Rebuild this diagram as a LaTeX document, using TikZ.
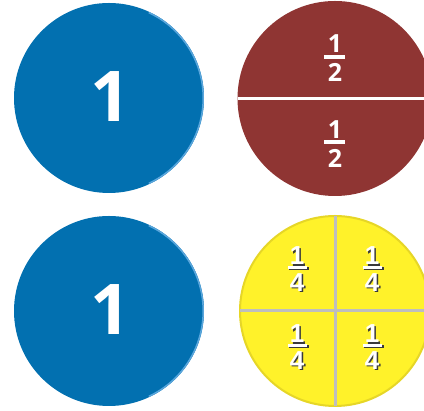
\documentclass[tikz,border=0pt]{standalone}
\usepackage{fontspec}
\setmainfont{Open Sans}
\newfontfamily\quarterfont{Liberation Sans}
\definecolor{discblue}{HTML}{0270B0}
\definecolor{rimblue}{HTML}{5AA6DC}
\definecolor{halfred}{HTML}{8F3533}
\definecolor{quarteryellow}{HTML}{FFF22A}
\definecolor{quarterrim}{HTML}{E6D627}
\definecolor{cutgray}{HTML}{BEBEBE}
\definecolor{shadowgray}{HTML}{3A3A3A}
\begin{document}
\begin{tikzpicture}[x=1pt,y=1pt,
  bignum/.style={text=white,inner sep=0pt,font=\bfseries\fontsize{70}{70}\selectfont},
  halfnum/.style={text=white,inner sep=0pt,font=\bfseries\fontsize{25}{25}\selectfont},
  quarternum/.style={inner sep=0pt,font=\quarterfont\bfseries\fontsize{26}{26}\selectfont}]
  \useasboundingbox (0,0) rectangle (424,411);
  \clip (0,0) rectangle (424,411);
  % two wholes
  \foreach \cy/\wn in {313/wholeA,100/wholeB} {
    \fill[discblue] (109,\cy) circle (95);
    \draw[rimblue,line width=1.5] (109,\cy) ++(-65:94.2) arc (-65:65:94.2);
    \node[bignum] (\wn) at (110,\cy+1) {1};
  }
  % halves
  \fill[halfred] (335,312.5) circle (97.5);
  \draw[white,line width=2.5] (237.5,312.5) -- (432.5,312.5);
  \foreach \hy/\hn in {367/halfA,281.5/halfB} {
    \node[halfnum] (\hn num) at (335,\hy) {1};
    \fill[white] (324,\hy-15) rectangle (345,\hy-11);
    \node[halfnum] (\hn den) at (335,\hy-28.5) {2};
  }
  % quarters
  \draw[quarterrim,fill=quarteryellow,line width=2] (335,100) circle (95);
  \draw[cutgray,line width=3] (240,100) -- (430,100);
  \draw[cutgray,line width=3] (335,5) -- (335,195);
  \foreach \qx/\qy/\qn in {297/155/quarterA,372/155/quarterB,297/77/quarterC,372/77/quarterD} {
    \node[quarternum,text=shadowgray] at (\qx+1.5,\qy-1.5) {1};
    \node[quarternum,text=white] (\qn num) at (\qx,\qy) {1};
    \fill[shadowgray] (\qx-8,\qy-14.5) rectangle (\qx+11.5,\qy-11.5);
    \fill[white] (\qx-9.5,\qy-13) rectangle (\qx+10,\qy-10);
    \node[quarternum,text=shadowgray] at (\qx+1.5,\qy-28) {4};
    \node[quarternum,text=white] (\qn den) at (\qx,\qy-26.5) {4};
  }
\end{tikzpicture}
\end{document}
